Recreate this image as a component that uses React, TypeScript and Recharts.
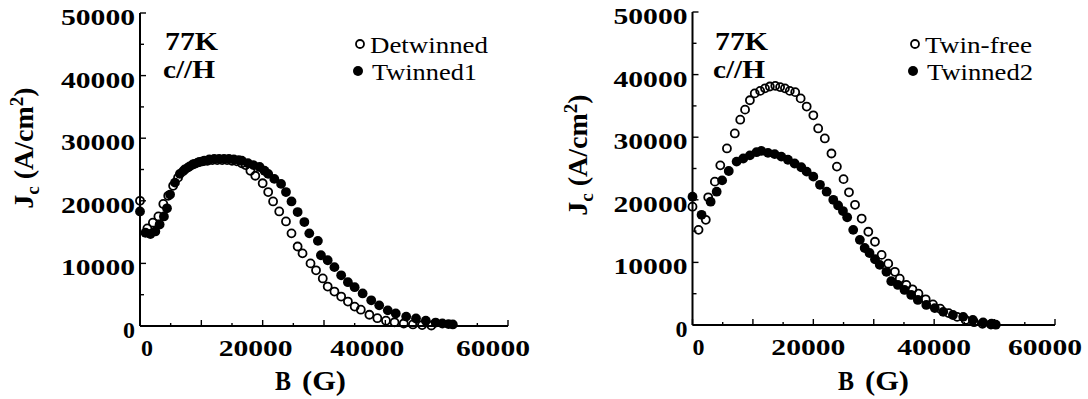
import { Scatter, ScatterChart, XAxis, YAxis } from "recharts";

// B (G), Jc (A/cm2)
const detwinned: [number, number][] = [
  [0, 20000], [1200, 15600], [2100, 16500], [3000, 17500], [3800, 19500],
  [4600, 20800], [5400, 22400], [6200, 23700], [7000, 24700], [7800, 25300],
  [8600, 25800], [9400, 26100], [10200, 26300], [11000, 26400], [11800, 26500],
  [12600, 26500], [13400, 26500], [14200, 26500], [15000, 26400], [15800, 26300],
  [16600, 26000], [17200, 25700], [18000, 24800], [18800, 24000], [20000, 22800],
  [20900, 21400], [21700, 19900], [22700, 18300], [23800, 16700], [24700, 14800],
  [25700, 12700], [26500, 11600], [27800, 10000], [28700, 8900], [29800, 7600],
  [30600, 6300], [31700, 5500], [32800, 4700], [33900, 3900], [35000, 3100],
  [36000, 2600], [37400, 1800], [38700, 1250], [40100, 850], [41500, 600],
  [43000, 400], [44500, 250], [46000, 150], [47500, 80],
];

const twinned1: [number, number][] = [
  [0, 18300], [900, 14900], [1700, 14700], [2500, 15100], [3200, 16200],
  [3900, 17500], [4400, 18800], [4900, 21000], [5700, 22900], [6500, 24300],
  [7300, 25000], [8100, 25500], [8900, 25900], [9700, 26200], [10500, 26400],
  [11300, 26600], [12100, 26700], [12900, 26700], [13700, 26700], [14500, 26700],
  [15300, 26600], [16100, 26500], [16600, 26400], [17600, 26000], [18500, 25700],
  [19500, 25400], [20300, 24800], [20900, 24300], [21900, 23500], [23000, 22700],
  [23800, 21400], [24700, 19900], [25700, 18200], [26800, 16600], [27600, 14800],
  [29000, 13600], [29500, 11300], [30600, 10500], [31700, 9400], [32800, 8100],
  [33900, 7000], [35000, 6200], [36300, 5200], [37700, 4100], [39000, 3300],
  [40400, 2500], [41700, 2000], [43400, 1500], [45000, 1200], [46600, 850],
  [48200, 550], [49300, 400], [50300, 300], [51000, 250],
];

const twinFree: [number, number][] = [
  [0, 18900], [1000, 15200], [2200, 16800], [2600, 20400], [3700, 22900],
  [4600, 25500], [5700, 28200], [7000, 30600], [7900, 32800], [8700, 34400],
  [9500, 35900], [10300, 37000], [11200, 37400], [12000, 37800], [12800, 38100],
  [13700, 38200], [14500, 38000], [15300, 37800], [16100, 37400], [17000, 37200],
  [17900, 36200], [18900, 34900], [20000, 33500], [20800, 31400], [21900, 29800],
  [23000, 27400], [23900, 25300], [25000, 23300], [25900, 21200], [26900, 19200],
  [28000, 17000], [29100, 14900], [30200, 13300], [31300, 11200], [32400, 9800],
  [33500, 8500], [34300, 7400], [35400, 6400], [36400, 5700], [37400, 5000],
  [38600, 4100], [39800, 3300], [41000, 2600], [42400, 1900], [43800, 1300],
  [45200, 800], [46600, 450], [48000, 200], [49400, 80],
];

const twinned2: [number, number][] = [
  [0, 20500], [1500, 17600], [3000, 19700], [4000, 21300], [4900, 23100],
  [6000, 24600], [7300, 26100], [8400, 26600], [9500, 27100], [10600, 27600],
  [11400, 27800], [12500, 27500], [13600, 27300], [14700, 26900], [15800, 26400],
  [16900, 25800], [18000, 25200], [18900, 24500], [20000, 23700], [21100, 22400],
  [22200, 21300], [23300, 20000], [24100, 19100], [24900, 18200], [25600, 17200],
  [26600, 15200], [27700, 13600], [28500, 12300], [29300, 11500], [30200, 10500],
  [31000, 9600], [32100, 8500], [32900, 7000], [34000, 6400], [35100, 5600],
  [36200, 4800], [37300, 4000], [38700, 3200], [40100, 2700], [41500, 2100],
  [43100, 1600], [44800, 1300], [46400, 800], [48100, 400], [49500, 200],
  [50200, 50],
];

const xTicks = [0, 5000, 10000, 15000, 20000, 25000, 30000, 35000, 40000, 45000, 50000, 55000, 60000];
const yTicks = [0, 5000, 10000, 15000, 20000, 25000, 30000, 35000, 40000, 45000, 50000];
const xLabels = [0, 20000, 40000, 60000];
const yLabels = [0, 10000, 20000, 30000, 40000, 50000];

const FONT = '"Liberation Serif", "Times New Roman", Times, serif';
const INK = "#000";

const toPts = (rows: [number, number][]) => rows.map(([b, j]) => ({ b, j }));

function Num({ x, y, s, anchor }: { x: number; y: number; s: string; anchor: "start" | "middle" | "end" }) {
  return (
    <text
      x={x}
      y={y}
      textAnchor={anchor}
      fontFamily={FONT}
      fontWeight="bold"
      fontSize={24}
      fill={INK}
      textLength={s.length > 1 ? s.length * 14.8 : undefined}
      lengthAdjust="spacingAndGlyphs"
    >
      {s}
    </text>
  );
}

function bottomTick(shift: number[]) {
  return (p: any) => {
    const v = p.payload.value;
    const len = v % 10000 === 0 ? 6 : 3;
    const i = xLabels.indexOf(v);
    return (
      <g>
        <line x1={p.x} x2={p.x} y1={p.y} y2={p.y - len} stroke={INK} strokeWidth={1.4} />
        {i >= 0 && <Num x={p.x + shift[i]} y={p.y + 30} s={String(v)} anchor="middle" />}
      </g>
    );
  };
}

const topTick = (p: any) => {
  const len = p.payload.value % 10000 === 0 ? 6 : 3;
  return <line x1={p.x} x2={p.x} y1={p.y} y2={p.y + len} stroke={INK} strokeWidth={1.4} />;
};

const leftTick = (p: any) => {
  const v = p.payload.value;
  const len = v % 10000 === 0 ? 6 : 4;
  return (
    <g>
      <line x1={p.x} x2={p.x + len} y1={p.y} y2={p.y} stroke={INK} strokeWidth={1.4} />
      {yLabels.includes(v) && <Num x={p.x - 5} y={p.y + 12} s={String(v)} anchor="end" />}
    </g>
  );
};

const rightTick = (p: any) => {
  const len = p.payload.value % 10000 === 0 ? 6 : 4;
  return <line x1={p.x} x2={p.x - len} y1={p.y} y2={p.y} stroke={INK} strokeWidth={1.4} />;
};

const openDot = (p: any) => (
  <circle cx={p.cx} cy={p.cy} r={4} fill="none" stroke={INK} strokeWidth={1.8} />
);
const fullDot = (p: any) => <circle cx={p.cx} cy={p.cy} r={4.9} fill={INK} />;

function Label({ x, y, w, s, size = 26, bold = true }: { x: number; y: number; w: number; s: string; size?: number; bold?: boolean }) {
  return (
    <text
      x={x}
      y={y}
      fontFamily={FONT}
      fontWeight={bold ? "bold" : "normal"}
      fontSize={size}
      fill={INK}
      textLength={w}
      lengthAdjust="spacingAndGlyphs"
    >
      {s}
    </text>
  );
}

interface PanelProps {
  left: number;
  open: [number, number][];
  filled: [number, number][];
  openName: string;
  filledName: string;
  openW: number;
  filledW: number;
  axisW: number;
  marginTop: number;
  marginRight: number;
  bottomH: number;
  shift: number[];
  titleX: number;
  titleY: number;
  bX: number;
  annX: number;
  legX: number;
}

function Panel(p: PanelProps) {
  return (
    <div style={{ position: "absolute", left: p.left, top: 0, width: 544, height: 399 }}>
      <ScatterChart
        width={544}
        height={399}
        margin={{ top: p.marginTop, right: p.marginRight, bottom: 0, left: 0 }}
      >
        <XAxis
          xAxisId={0}
          dataKey="b"
          type="number"
          domain={[0, 60000]}
          ticks={xTicks}
          interval={0}
          height={p.bottomH}
          tickSize={0}
          tickMargin={0}
          tickLine={false}
          axisLine={{ stroke: INK, strokeWidth: 2 }}
          tick={bottomTick(p.shift)}
        />
        <XAxis
          xAxisId="top"
          orientation="top"
          type="number"
          domain={[0, 60000]}
          allowDataOverflow
          ticks={xTicks}
          interval={0}
          height={0}
          tickSize={0}
          tickMargin={0}
          tickLine={false}
          axisLine={{ stroke: INK, strokeWidth: 2 }}
          tick={topTick}
        />
        <YAxis
          yAxisId={0}
          dataKey="j"
          type="number"
          domain={[0, 50000]}
          ticks={yTicks}
          interval={0}
          width={p.axisW}
          tickSize={0}
          tickMargin={0}
          tickLine={false}
          axisLine={{ stroke: INK, strokeWidth: 2 }}
          tick={leftTick}
        />
        <YAxis
          yAxisId="right"
          orientation="right"
          type="number"
          domain={[0, 50000]}
          allowDataOverflow
          ticks={yTicks}
          interval={0}
          width={0}
          tickSize={0}
          tickMargin={0}
          tickLine={false}
          axisLine={{ stroke: INK, strokeWidth: 2 }}
          tick={rightTick}
        />
        <Scatter data={toPts(p.open)} shape={openDot} isAnimationActive={false} />
        <Scatter data={toPts(p.filled)} shape={fullDot} isAnimationActive={false} />
      </ScatterChart>
      <svg
        width={544}
        height={399}
        style={{ position: "absolute", left: 0, top: 0, pointerEvents: "none" }}
      >
        <text
          transform={`translate(${p.titleX},${p.titleY}) rotate(-90)`}
          textAnchor="middle"
          fontFamily={FONT}
          fontWeight="bold"
          fontSize={28}
          fill={INK}
        >
          J<tspan dy={6} fontSize={19}>c</tspan>
          <tspan dy={-6}> (A/cm</tspan>
          <tspan dy={-10} fontSize={19}>2</tspan>
          <tspan dy={10}>)</tspan>
        </text>
        <Label x={p.bX} y={390} w={16} s="B" size={27} />
        <Label x={p.bX + 27} y={390} w={44} s="(G)" size={27} />
        <Label x={p.annX} y={50} w={53} s="77K" />
        <Label x={p.annX - 2} y={78} w={52} s="c//H" />
        <circle cx={p.legX} cy={44} r={4} fill="none" stroke={INK} strokeWidth={1.8} />
        <circle cx={p.legX - 2} cy={71} r={5} fill={INK} />
        <Label x={p.legX + 10} y={53} w={p.openW} s={p.openName} size={24} bold={false} />
        <Label x={p.legX + 12} y={80} w={p.filledW} s={p.filledName} size={24} bold={false} />
      </svg>
    </div>
  );
}

export default function App() {
  return (
    <div style={{ position: "absolute", left: 0, top: 0, width: 1088, height: 399, background: "#fff" }}>
      <Panel
        left={0}
        open={detwinned}
        filled={twinned1}
        openName="Detwinned"
        filledName="Twinned1"
        openW={118}
        filledW={105}
        axisW={140}
        marginTop={13}
        marginRight={36}
        bottomH={73}
        shift={[7, -7, -18, -15]}
        titleX={33}
        titleY={148}
        bX={275}
        annX={165}
        legX={360}
      />
      <Panel
        left={544}
        open={twinFree}
        filled={twinned2}
        openName="Twin-free"
        filledName="Twinned2"
        openW={107}
        filledW={106}
        axisW={148.5}
        marginTop={12}
        marginRight={33}
        bottomH={74}
        shift={[6, -5, 0, -10]}
        titleX={43}
        titleY={155}
        bX={294}
        annX={171}
        legX={371}
      />
    </div>
  );
}
